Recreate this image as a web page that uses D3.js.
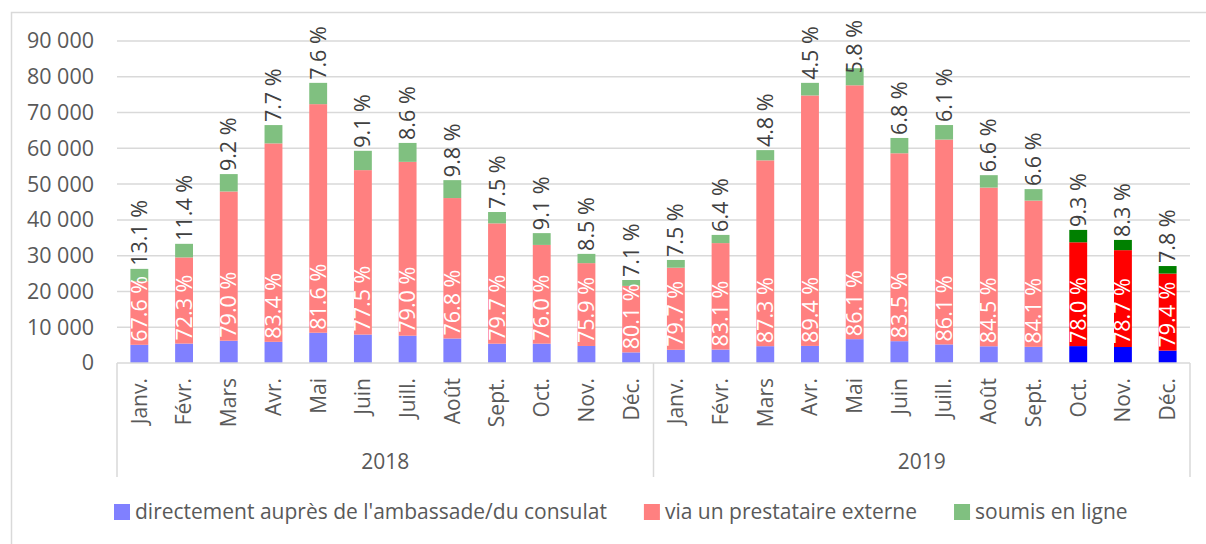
<!DOCTYPE html>
<html>
<head>
<meta charset="utf-8">
<script src="https://cdn.jsdelivr.net/npm/d3@7"></script>
<style>
  body { margin: 0; background: #fff; }
  text { font-family: "Open Sans", sans-serif; }
</style>
</head>
<body>
<svg id="chart" width="1206" height="544"></svg>
<script>
// months shown on the category axis, two years
const months = ["Janv.", "Févr.", "Mars", "Avr.", "Mai", "Juin", "Juill.", "Août", "Sept.", "Oct.", "Nov.", "Déc."];
const years = ["2018", "2019"];

// applications per channel
const direct = [5080, 5430, 6230, 5920, 8460, 7950, 7630, 6850, 5400, 5410, 4760, 2970,
                3690, 3760, 4700, 4780, 6670, 6100, 5190, 4670, 4520, 4720, 4470, 3470];
const prestataire = [17780, 24080, 41710, 55460, 63890, 45960, 48590, 39250, 33630, 27590, 23150, 18580,
                     22950, 29750, 51940, 70000, 70950, 52520, 57260, 44360, 40870, 29020, 27070, 21520];
const enLigne = [3450, 3800, 4860, 5120, 5950, 5400, 5290, 5010, 3170, 3300, 2590, 1650,
                 2160, 2290, 2860, 3520, 4780, 4280, 4060, 3470, 3210, 3460, 2860, 2110];

// data labels printed on the chart
const pctPrestataire = ["67.6", "72.3", "79.0", "83.4", "81.6", "77.5", "79.0", "76.8", "79.7", "76.0", "75.9", "80.1",
                        "79.7", "83.1", "87.3", "89.4", "86.1", "83.5", "86.1", "84.5", "84.1", "78.0", "78.7", "79.4"];
const pctEnLigne = ["13.1", "11.4", "9.2", "7.7", "7.6", "9.1", "8.6", "9.8", "7.5", "9.1", "8.5", "7.1",
                    "7.5", "6.4", "4.8", "4.5", "5.8", "6.8", "6.1", "6.6", "6.6", "9.3", "8.3", "7.8"];

// the last three months are drawn in full colour
const highlighted = ["2019-Oct.", "2019-Nov.", "2019-Déc."];

const seriesNames = ["directement auprès de l'ambassade/du consulat", "via un prestataire externe", "soumis en ligne"];
const keys = ["direct", "prestataire", "enLigne"];
const paleColors = ["#8080ff", "#ff8080", "#80c080"];
const fullColors = ["#0000ff", "#ff0000", "#008000"];
const yTicks = [0, 10000, 20000, 30000, 40000, 50000, 60000, 70000, 80000, 90000];

const table = [];
years.forEach((yr, yi) => months.forEach((m, mi) => {
  const i = yi * 12 + mi;
  table.push({
    id: yr + "-" + m, year: yr, month: m, i: i,
    direct: direct[i], prestataire: prestataire[i], enLigne: enLigne[i]
  });
}));

const svg = d3.select("#chart");
const W = 1206, H = 544;
const plotLeft = 117, plotRight = 1190, plotTop = 41, plotBottom = 363;
const grey = "#d9d9d9", textGrey = "#595959";
const labelSize = 21.5, axisSize = 21;

svg.append("rect").attr("width", W).attr("height", H).attr("fill", "#fff");
svg.append("rect")
  .attr("x", 11.5).attr("y", 12.5).attr("width", W).attr("height", H)
  .attr("fill", "none").attr("stroke", grey).attr("stroke-width", 1.5);

const x = d3.scaleBand().domain(table.map(d => d.id)).range([plotLeft, plotRight])
  .paddingInner(0.6).paddingOuter(0.3);
const y = d3.scaleLinear().domain([0, 90000]).range([plotBottom, plotTop]);

const fr = d3.formatLocale({ decimal: ",", thousands: " ", grouping: [3], currency: ["", " €"] });
const fmt = fr.format(",d");

// gridlines
svg.append("g").selectAll("line").data(yTicks.filter(t => t > 0)).join("line")
  .attr("x1", plotLeft).attr("x2", plotRight)
  .attr("y1", d => y(d)).attr("y2", d => y(d))
  .attr("stroke", grey).attr("stroke-width", 1.5);

// y axis labels
const yAxis = svg.append("g").attr("transform", `translate(${plotLeft - 23},0)`)
  .call(d3.axisLeft(y).tickValues(yTicks).tickFormat(fmt).tickSize(0).tickPadding(0));
yAxis.select(".domain").remove();
yAxis.selectAll("text").attr("font-size", labelSize).attr("fill", textGrey)
  .attr("font-family", "Open Sans, sans-serif");

// stacked bars
const stacked = d3.stack().keys(keys)(table);
stacked.forEach((layer, k) => {
  svg.append("g").selectAll("rect").data(layer).join("rect")
    .attr("x", d => x(d.data.id))
    .attr("width", x.bandwidth())
    .attr("y", d => y(d[1]))
    .attr("height", d => y(d[0]) - y(d[1]))
    .attr("fill", d => highlighted.includes(d.data.id) ? fullColors[k] : paleColors[k]);
});

// category axis line and year separators
svg.append("line").attr("x1", plotLeft).attr("x2", plotRight).attr("y1", plotBottom).attr("y2", plotBottom)
  .attr("stroke", grey).attr("stroke-width", 1.5);
svg.append("g").selectAll("line")
  .data([plotLeft, x(table[12].id) - x.step() * x.paddingInner() / 2, plotRight]).join("line")
  .attr("x1", d => d).attr("x2", d => d).attr("y1", plotBottom).attr("y2", 477)
  .attr("stroke", grey).attr("stroke-width", 1.5);

// month labels
svg.append("g").selectAll("text").data(table).join("text")
  .attr("transform", d => `translate(${x(d.id) + x.bandwidth() / 2},378) rotate(-90)`)
  .attr("text-anchor", "end").attr("dy", "0.35em")
  .attr("font-size", axisSize).attr("fill", textGrey)
  .text(d => d.month);

// year labels
svg.append("g").selectAll("text").data(years).join("text")
  .attr("x", (d, i) => {
    const a = x(table[i * 12].id), b = x(table[i * 12 + 11].id) + x.bandwidth();
    return (a + b) / 2;
  })
  .attr("y", 462).attr("dy", "0.35em").attr("text-anchor", "middle")
  .attr("font-size", axisSize).attr("fill", textGrey)
  .text(d => d);

// white labels inside the red segment
svg.append("g").selectAll("text").data(stacked[1]).join("text")
  .attr("transform", d => `translate(${x(d.data.id) + x.bandwidth() / 2},${y(d[0]) - 3}) rotate(-90)`)
  .attr("dy", "0.35em").attr("font-size", labelSize).attr("fill", "#fff")
  .text(d => pctPrestataire[d.data.i] + " %");

// labels above the bars
svg.append("g").selectAll("text").data(stacked[2]).join("text")
  .attr("dy", "0.35em").attr("font-size", labelSize).attr("fill", "#404040")
  .text(d => pctEnLigne[d.data.i] + " %")
  .attr("transform", function(d) {
    const len = this.getComputedTextLength();
    const base = Math.max(y(d[1]) - 3, 20 + len);
    return `translate(${x(d.data.id) + x.bandwidth() / 2},${base}) rotate(-90)`;
  });

// legend
const legend = svg.append("g").attr("transform", "translate(114,512)");
let lx = 0;
seriesNames.forEach((name, k) => {
  const item = legend.append("g").attr("transform", `translate(${lx},0)`);
  item.append("rect").attr("x", 0).attr("y", -8).attr("width", 16).attr("height", 16).attr("fill", paleColors[k]);
  const t = item.append("text").attr("x", 21).attr("dy", "0.35em")
    .attr("font-size", axisSize).attr("fill", textGrey).text(name);
  lx += 21 + t.node().getComputedTextLength() + 37;
});
</script>
</body>
</html>
